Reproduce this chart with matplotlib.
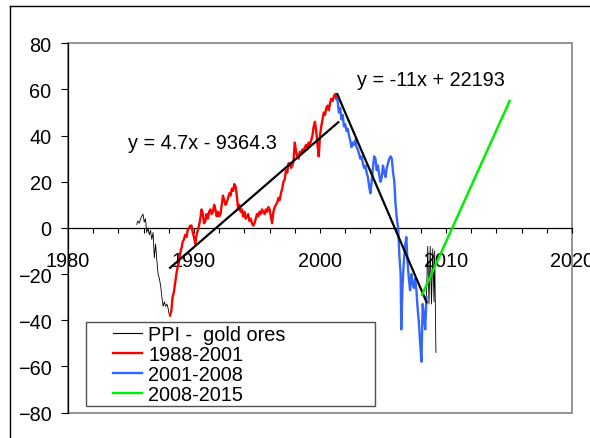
import numpy as np
import matplotlib
matplotlib.use("Agg")
import matplotlib.pyplot as plt
from matplotlib.lines import Line2D
from matplotlib.patches import Rectangle
from matplotlib.ticker import FixedLocator, FuncFormatter
from matplotlib.legend_handler import HandlerLine2D

plt.rcParams['font.family'] = ['Liberation Sans', 'DejaVu Sans']

# ---------------- data ----------------
early_years = [1985.45, 1985.55, 1985.65, 1985.8, 1985.95, 1986.05, 1986.15, 1986.25,
               1986.35, 1986.45, 1986.55, 1986.65, 1986.75, 1986.85, 1986.95, 1987.05,
               1987.15, 1987.25, 1987.35, 1987.45, 1987.55, 1987.65, 1987.75, 1987.85,
               1987.95, 1988.05]
early_vals = [1.5, 3, 2, 4.5, 6, 2.5, 4, -2, 0, -3, -1, -5, -2, -13, -7, -14,
              -20, -22, -25, -30, -34, -32, -34, -33, -35, -38]

red_years = [round(1988.1 + 0.1 * i, 2) for i in range(133)]
red_vals = [-38, -36, -30, -28, -24, -20, -17, -15, -11, -9,
            -6, -5, -3, -4, -1, 0, 1, 1, -2, -4,
            -7, -3, -1, 1, 4, 8, 6, 2, 3, 6,
            4, 7, 8, 6, 7, 10, 8, 5, 7, 5,
            6, 10, 14, 12, 10, 11, 13, 15, 14, 17,
            16, 19, 18, 14, 8, 10, 7, 8, 5, 7,
            4, 5, 6, 3, 4, 2, 1, 2, 4, 6,
            5, 7, 6, 8, 7, 6, 8, 7, 9, 8,
            5, 2, 7, 9, 10, 11, 13, 12, 15, 17,
            20, 21, 25, 24, 28, 28, 26, 27, 29, 37,
            33, 31, 30, 33, 32, 34, 33, 35, 36, 34,
            37, 36, 38, 40, 44, 46, 42, 36, 31, 40,
            44, 47, 50, 49, 52, 53, 51, 54, 56, 55,
            57, 58, 56]

blue_years = [2001.3, 2001.4, 2001.5, 2001.6, 2001.7, 2001.8, 2001.9, 2002.0, 2002.1,
              2002.2, 2002.3, 2002.4, 2002.5, 2002.6, 2002.7, 2002.8, 2002.9, 2003.0,
              2003.1, 2003.2, 2003.3, 2003.4, 2003.5, 2003.6, 2003.7, 2003.8, 2003.9,
              2004.0, 2004.1, 2004.2, 2004.3, 2004.4, 2004.5, 2004.6, 2004.7, 2004.8,
              2004.9, 2005.0, 2005.1, 2005.2, 2005.3, 2005.4, 2005.5, 2005.6, 2005.7,
              2005.8, 2005.9, 2006.0, 2006.1, 2006.2, 2006.3, 2006.4, 2006.45, 2006.55,
              2006.65, 2006.75, 2006.85, 2006.95, 2007.05, 2007.15, 2007.25, 2007.35,
              2007.45, 2007.55, 2007.65, 2007.75, 2007.85, 2007.95, 2008.05, 2008.15,
              2008.25, 2008.35, 2008.45]
blue_vals = [56, 55, 50, 52, 47, 49, 44, 45, 42,
             43, 40, 38, 35, 37, 36, 38, 35, 34,
             32, 30, 31, 28, 26, 27, 24, 22, 18,
             15, 20, 26, 31, 30, 25, 27, 23, 20,
             22, 27, 24, 22, 26, 28, 30, 31, 30,
             24, 20, 10, 4, 0, -12, -20, -44, -25,
             -15, -8, -4, -15, -22, -27, -20, -24,
             -26, -22, -27, -35, -41, -50, -58, -33,
             -38, -44, -30]

late_years = [2008.55, 2008.65, 2008.75, 2008.85, 2008.95, 2009.05, 2009.1, 2009.2]
late_vals = [-8, -33, -8, -33, -9, -32, -10, -54]

trend1_years = [1988.1, 2001.45]
trend1_vals = [-17.3, 45.8]
trend2_years = [2001.37, 2008.46]
trend2_vals = [58.0, -32.2]
green_years = [2008.1, 2015.05]
green_vals = [-29.0, 55.0]

eq1 = "y = 4.7x - 9364.3"
eq2 = "y = -11x + 22193"
legend_labels = ["PPI -  gold ores", "1988-2001", "2001-2008", "2008-2015"]
y_ticks = [-80, -60, -40, -20, 0, 20, 40, 60, 80]
x_ticks = list(range(1980, 2021, 2))

ppi_years = early_years + red_years + blue_years + late_years
ppi_vals = early_vals + red_vals + blue_vals + late_vals

# ---------------- figure ----------------
W, H = 590, 439
fig = plt.figure(figsize=(W / 100, H / 100), dpi=100)
L, R, T, B = 68, 572, 44.3, 413.5
ax = fig.add_axes([L / W, 1 - B / H, (R - L) / W, (B - T) / H])
ax.set_xlim(1980, 2020)
ax.set_ylim(-80, 80)

FS = 14.3
ax.plot(ppi_years, ppi_vals, color='black', lw=0.6, label=legend_labels[0], zorder=2)
ax.plot(red_years, red_vals, color='#FF0000', lw=1.7, label=legend_labels[1], zorder=3)
ax.plot(blue_years, blue_vals, color='#3366FF', lw=1.7, label=legend_labels[2], zorder=3)
ax.plot(trend1_years, trend1_vals, color='black', lw=1.6, zorder=4)
ax.plot(trend2_years, trend2_vals, color='black', lw=1.6, zorder=4)
ax.plot(green_years, green_vals, color='#00EE00', lw=1.8, label=legend_labels[3], zorder=5)

ax.text(1984.76, 37.2, eq1, fontsize=FS, ha='left', va='center')
ax.text(2002.94, 64.5, eq2, fontsize=FS, ha='left', va='center')

# axes styling
ax.set_axisbelow(True)
for s in ['top', 'right']:
    ax.spines[s].set_visible(False)
ax.add_patch(Rectangle((0, 0), 1, 1, transform=ax.transAxes, fill=False,
                       edgecolor='#8c8c8c', lw=1.3, zorder=0.4, clip_on=False))
ax.spines['left'].set_color('black')
ax.spines['left'].set_linewidth(0.9)
ax.spines['bottom'].set_position(('data', 0))
ax.spines['bottom'].set_color('black')
ax.spines['bottom'].set_linewidth(0.9)

ax.yaxis.set_major_locator(FixedLocator(y_ticks))
ax.xaxis.set_major_locator(FixedLocator(x_ticks))
ax.xaxis.set_major_formatter(FuncFormatter(
    lambda v, p: f"{int(round(v))}" if int(round(v)) % 10 == 0 else ""))
ax.tick_params(axis='y', direction='out', length=4.8, width=0.8, pad=7, labelsize=FS)
ax.tick_params(axis='x', direction='out', length=3.6, width=0.8, pad=13, labelsize=FS)


class OffsetHandler(HandlerLine2D):
    def create_artists(self, legend, orig_handle, xdescent, ydescent, width,
                       height, fontsize, trans):
        arts = super().create_artists(legend, orig_handle, xdescent, ydescent,
                                      width, height, fontsize, trans)
        for a in arts:
            xd = np.asarray(a.get_xdata(), dtype=float)
            if xd.size >= 2:
                x0, x1 = xd.min(), xd.max()
                a.set_xdata(np.linspace(x0 + 0.46 * (x1 - x0), x1, xd.size))
        return arts


handles, labels = ax.get_legend_handles_labels()
leg = ax.legend(handles, labels, loc='lower left',
                bbox_to_anchor=(18 / 504, 6.5 / 369.2, 289 / 504, 0.2),
                mode='expand', borderaxespad=0, fontsize=FS, frameon=True,
                fancybox=False, framealpha=1, edgecolor='#505050',
                handlelength=2.72, handletextpad=0.3, labelspacing=0.05,
                borderpad=0.12, handler_map={Line2D: OffsetHandler()})
leg.get_frame().set_linewidth(1.0)
for lh in leg.legend_handles:
    lh.set_linewidth(1.7 if lh.get_color() != 'black' else 0.8)

# outer chart border (cropped screenshot: only top and left visible)
fig.add_artist(Line2D([10 / W, 1], [1 - 7 / H, 1 - 7 / H], transform=fig.transFigure,
                      color='black', lw=1.0))
fig.add_artist(Line2D([10 / W, 10 / W], [0, 1 - 7 / H], transform=fig.transFigure,
                      color='black', lw=1.0))

fig.savefig('out.png', dpi=100)
